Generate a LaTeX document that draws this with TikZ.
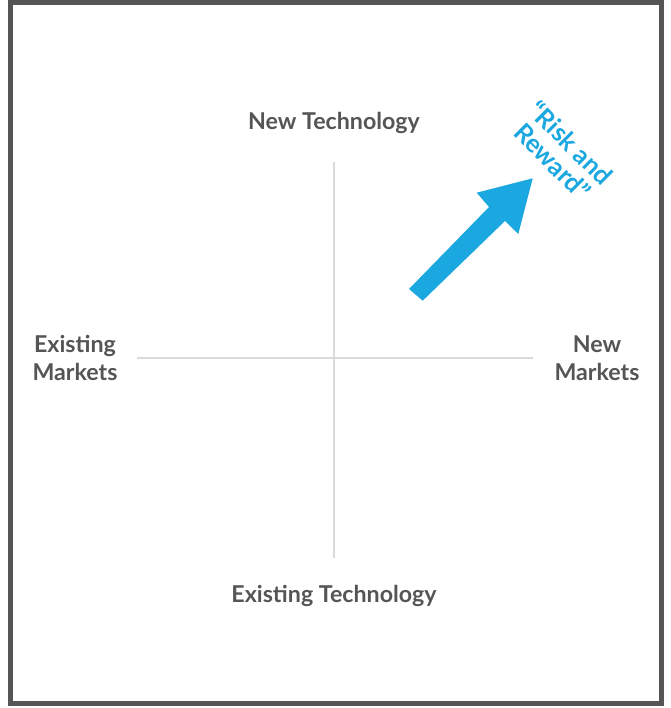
\documentclass[tikz,border=0pt]{standalone}
\usepackage{fontspec}
\setmainfont{Lato}[UprightFont=* Bold]
\begin{document}
\begin{tikzpicture}[x=1pt,y=-1pt,
  lbl/.style={text=textgray,font=\fontsize{23.2}{28}\selectfont,align=center,inner sep=0pt},
  axis/.style={draw=axisgray,line width=1.2pt}]
\definecolor{textgray}{HTML}{555555}
\definecolor{axisgray}{HTML}{DADADA}
\definecolor{framegray}{HTML}{555555}
\definecolor{arrowblue}{HTML}{1BA7DF}
\useasboundingbox (0,0) rectangle (670,708);
\draw[framegray,line width=5.2pt] (10.6,2.6) rectangle (661.4,703.4);
\coordinate (vt) at (334,162);
\coordinate (vb) at (334,558);
\coordinate (hl) at (137,358);
\coordinate (hr) at (533,358);
\draw[axis] (vt) -- (vb);
\draw[axis] (hl) -- (hr);
\node[lbl] (nt) at (334,122.5) {New Technology};
\node[lbl] (et) at (334,595.5) {Existing Technology};
\node[lbl] (em) at (75,358) {Existing\\Markets};
\node[lbl] (nm) at (597,358) {New\\Markets};
\fill[arrowblue] (409,289) -- (489,207) -- (476.7,192.7) -- (532.7,178.3) -- (518.3,234) -- (505,221) -- (422.7,300.7) -- cycle;
\node[text=arrowblue,font=\fontsize{25.5}{26}\selectfont,align=center,rotate=-45,inner sep=0pt] (rr) at (562,152) {“Risk and\\Reward”};
\end{tikzpicture}
\end{document}
